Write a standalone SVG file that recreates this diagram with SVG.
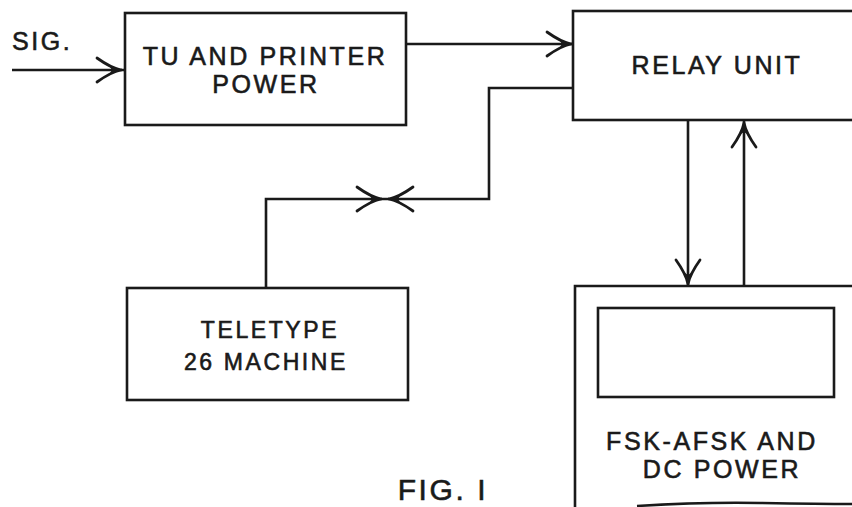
<svg xmlns="http://www.w3.org/2000/svg" xmlns:xlink="http://www.w3.org/1999/xlink" width="852" height="507" viewBox="0 0 852 507">
<style>
.box{fill:none;stroke:#1a1a1a;stroke-width:2.6}
.ln{fill:none;stroke:#1a1a1a;stroke-width:2.6}
.t{font-family:"Liberation Sans",Arial,sans-serif;font-size:25px;fill:#1a1a1a;stroke:#1a1a1a;stroke-width:0.6;text-anchor:middle;letter-spacing:2.6px}
</style>
<defs>
<g id="ah">
<path d="M0,0 Q-10,-2 -24,-12 M0,0 Q-10,2 -24,12" fill="none" stroke="#1a1a1a" stroke-width="2.8" stroke-linecap="round"/>
<path d="M1,0 L-12,-4.5 L-9,0 L-12,4.5 Z" fill="#1a1a1a"/>
</g>
</defs>
<rect width="852" height="507" fill="#fff"/>
<g id="tu">
<rect class="box" x="125" y="13" width="281" height="112"/>
<text class="t" x="265" y="65">TU AND PRINTER</text>
<text class="t" x="266" y="93">POWER</text>
</g>
<g id="relay">
<rect class="box" x="573" y="11" width="290" height="109"/>
<text class="t" x="717" y="74">RELAY UNIT</text>
</g>
<g id="teletype">
<rect class="box" x="127" y="288" width="281" height="112"/>
<text class="t" x="270" y="338" style="font-size:23px">TELETYPE</text>
<text class="t" x="266" y="370" style="font-size:23px">26 MACHINE</text>
</g>
<g id="fsk">
<path class="box" d="M575,512 L575,286 L862,286"/>
<rect class="box" x="598" y="308" width="236" height="89"/>
<text class="t" x="712" y="450">FSK-AFSK AND</text>
<text class="t" x="722" y="478">DC POWER</text>
<path class="ln" d="M637,506 Q700,502 760,503 T852,504"/>
</g>
<g id="label">
<text class="t" x="443" y="500" style="font-size:30px">FIG. I</text>
<text class="t" x="12" y="50" style="text-anchor:start">SIG.</text>
</g>
<g id="connectors">
<path class="ln" d="M12,70 L125,70"/>
<path class="ln" d="M406,44 L573,44"/>
<path class="ln" d="M573,88 L489,88 L489,199 L266,199 L266,288"/>
<path class="ln" d="M688,120 L688,286"/>
<path class="ln" d="M744,120 L744,286"/>
<use xlink:href="#ah" transform="translate(121,70)"/>
<use xlink:href="#ah" transform="translate(571,44)"/>
<use xlink:href="#ah" transform="translate(381,199)"/>
<use xlink:href="#ah" transform="translate(389,199) rotate(180)"/>
<use xlink:href="#ah" transform="translate(688,284) rotate(90)"/>
<use xlink:href="#ah" transform="translate(744,123) rotate(-90)"/>
</g>
</svg>
